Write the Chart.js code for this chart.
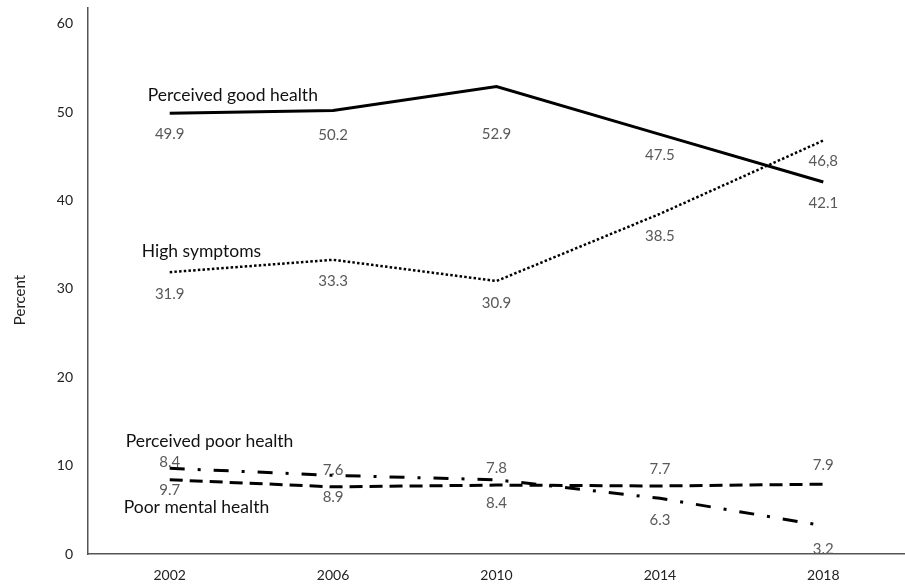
<!DOCTYPE html>
<html>
<head>
<meta charset="utf-8">
<script src="https://cdn.jsdelivr.net/npm/chart.js@4.4.1/dist/chart.umd.min.js"></script>
<style>
  html, body { margin: 0; padding: 0; background: #fff; }
  #wrap { width: 905px; height: 588px; }
</style>
</head>
<body>
<div id="wrap"><canvas id="line_chart" width="905" height="588"></canvas></div>
<script>
// data
let years = ['2002', '2006', '2010', '2014', '2018'];
let yTicks = [0, 10, 20, 30, 40, 50, 60];
let goodHealth = [49.9, 50.2, 52.9, 47.5, 42.1];
let highSymptoms = [31.9, 33.3, 30.9, 38.5, 46.8];
let poorHealth = [8.4, 7.6, 7.8, 7.7, 7.9];
let poorMental = [9.7, 8.9, 8.4, 6.3, 3.2];

// value labels as printed in the figure
let goodHealthText = ['49.9', '50.2', '52.9', '47.5', '42.1'];
let highSymptomsText = ['31.9', '33.3', '30.9', '38.5', '46,8'];
let poorHealthText = ['8.4', '7.6', '7.8', '7.7', '7.9'];
let poorMentalText = ['9.7', '8.9', '8.4', '6.3', '3.2'];

let seriesNames = ['Perceived good health', 'High symptoms', 'Perceived poor health', 'Poor mental health'];

const FONT = 'Lato, "Open Sans", sans-serif';

// label offsets (px) from each point, and series name offsets from first point
const valueOffsets = [
    [21, 25, 48, 21, 21],
    [22, 21, 22, 22, 21],
    [-18, -17, -17, -17, -19],
    [22, 22, 23, 22, 23]
];
const nameOffsets = [[-22, -18], [-28, -21], [-44, -38], [-46, 39]];
const valueTexts = [goodHealthText, highSymptomsText, poorHealthText, poorMentalText];

const labelPlugin = {
    id: 'labels',
    afterDatasetsDraw(chart) {
        const ctx = chart.ctx;
        ctx.save();
        chart.data.datasets.forEach((ds, d) => {
            const meta = chart.getDatasetMeta(d);
            ctx.font = '15px ' + FONT;
            ctx.fillStyle = '#595959';
            ctx.textAlign = 'center';
            ctx.textBaseline = 'middle';
            meta.data.forEach((pt, i) => {
                ctx.fillText(valueTexts[d][i], pt.x, pt.y + valueOffsets[d][i]);
            });
            const first = meta.data[0];
            ctx.font = '17.5px ' + FONT;
            ctx.fillStyle = '#111';
            ctx.textAlign = 'left';
            ctx.fillText(seriesNames[d], first.x + nameOffsets[d][0], first.y + nameOffsets[d][1]);
        });
        // axis title
        ctx.translate(20, 300);
        ctx.rotate(-Math.PI / 2);
        ctx.font = '15px ' + FONT;
        ctx.fillStyle = '#222';
        ctx.textAlign = 'center';
        ctx.fillText('Percent', 0, 0);
        ctx.restore();
    }
};

function makeSet(label, data, dash, width) {
    return {
        label: label,
        data: data,
        borderColor: '#000',
        borderWidth: width,
        borderDash: dash,
        borderCapStyle: 'butt',
        pointRadius: 0,
        tension: 0,
        fill: false
    };
}

var ctx = document.getElementById('line_chart').getContext('2d');
var line_chart = new Chart(ctx, {
    type: 'line',
    data: {
        labels: years,
        datasets: [
            makeSet(seriesNames[0], goodHealth, [], 3),
            makeSet(seriesNames[1], highSymptoms, [2.5, 2.2], 2.5),
            makeSet(seriesNames[2], poorHealth, [13, 7], 3),
            makeSet(seriesNames[3], poorMental, [15, 13, 3, 13], 3)
        ]
    },
    options: {
        responsive: false,
        animation: false,
        layout: { padding: { top: 8, right: 0, left: 0, bottom: 0 } },
        plugins: {
            legend: { display: false },
            tooltip: { enabled: false }
        },
        scales: {
            x: {
                offset: true,
                grid: { display: false, drawTicks: false },
                border: { display: true, color: '#555', width: 1.5 },
                ticks: { color: '#222', font: { family: FONT, size: 14 }, padding: 13 },
                afterFit: (s) => { s.height = 34; s.paddingLeft = 0; s.paddingRight = 0; }
            },
            y: {
                min: 0,
                max: 61.8,
                grid: { display: false, drawTicks: false },
                border: { display: true, color: '#555', width: 1.5 },
                ticks: { color: '#222', font: { family: FONT, size: 14 }, padding: 15 },
                afterBuildTicks: (s) => { s.ticks = yTicks.map(v => ({ value: v })); },
                afterFit: (s) => { s.width = 88; s.paddingTop = 0; s.paddingBottom = 0; }
            }
        }
    },
    plugins: [labelPlugin]
});
</script>
</body>
</html>
